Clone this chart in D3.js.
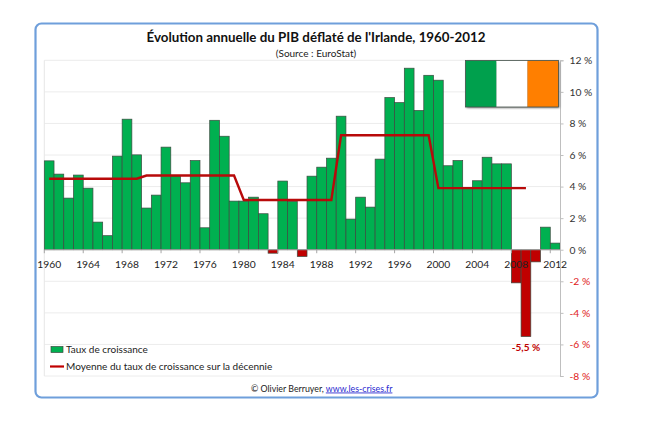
<!DOCTYPE html>
<html lang="fr">
<head>
<meta charset="utf-8">
<script src="https://cdnjs.cloudflare.com/ajax/libs/d3/7.8.5/d3.min.js"></script>
<style>
  html, body { margin: 0; background: #fff; }
  svg { display: block; font-family: Lato, "Open Sans", sans-serif; }
</style>
</head>
<body>
<div id="chart"></div>
<script>
const years = d3.range(1960, 2013)
const growth = [
  5.63, 4.79, 3.27, 4.73, 3.9, 1.75, 0.89, 5.93, 8.27, 6.01,
  2.64, 3.46, 6.5, 4.68, 4.24, 5.65, 1.39, 8.2, 7.19, 3.08,
  3.08, 3.33, 2.28, -0.22, 4.35, 3.06, -0.43, 4.66, 5.23, 5.8,
  8.46, 1.94, 3.33, 2.7, 5.74, 9.64, 9.32, 11.5, 8.82, 11.05,
  10.74, 5.32, 5.65, 3.95, 4.37, 5.86, 5.44, 5.44, -2.1, -5.5,
  -0.77, 1.43, 0.42
]
const decadeYears = d3.range(1960, 2010)
const decadeMeans = [
  4.5, 4.5, 4.5, 4.5, 4.5, 4.5, 4.5, 4.5, 4.5, 4.5,
  4.7, 4.7, 4.7, 4.7, 4.7, 4.7, 4.7, 4.7, 4.7, 4.7,
  3.15, 3.15, 3.15, 3.15, 3.15, 3.15, 3.15, 3.15, 3.15, 3.15,
  7.25, 7.25, 7.25, 7.25, 7.25, 7.25, 7.25, 7.25, 7.25, 7.25,
  3.9, 3.9, 3.9, 3.9, 3.9, 3.9, 3.9, 3.9, 3.9, 3.9
]
const yTicks = [-8, -6, -4, -2, 0, 2, 4, 6, 8, 10, 12]
const xTickYears = years.filter(d => (d - 1960) % 4 === 0)
const flagColors = ["#00a04d", "#ffffff", "#ff7f00"]

const width = 649, height = 432
const plot = { left: 44.3, right: 560, top: 60.3, bottom: 376 }

const svg = d3.select("#chart").append("svg")
  .attr("width", width)
  .attr("height", height)

const defs = svg.append("defs")
const blur = defs.append("filter").attr("id", "soft")
  .attr("x", "-5%").attr("y", "-5%").attr("width", "115%").attr("height", "115%")
blur.append("feGaussianBlur").attr("stdDeviation", 1.2)

// outer frame
svg.append("rect")
  .attr("x", 35.5).attr("y", 23.5).attr("width", 562).attr("height", 374)
  .attr("rx", 6)
  .attr("fill", "#fff")
  .attr("stroke", "#6f9fdb")
  .attr("stroke-width", 2.2)

const x = d3.scaleBand().domain(years).range([plot.left, plot.right])
const y = d3.scaleLinear().domain([-8, 12]).range([plot.bottom, plot.top])

// gridlines
svg.append("g").selectAll("line")
  .data(yTicks)
  .join("line")
  .attr("x1", plot.left).attr("x2", plot.right)
  .attr("y1", d => y(d)).attr("y2", d => y(d))
  .attr("stroke", "#ececec")
  .attr("stroke-width", 1)

svg.append("line")
  .attr("x1", plot.left).attr("x2", plot.left)
  .attr("y1", plot.top).attr("y2", plot.bottom)
  .attr("stroke", "#e6e6e6")

// bars
svg.append("g").selectAll("rect")
  .data(years)
  .join("rect")
  .attr("x", d => x(d))
  .attr("width", x.bandwidth())
  .attr("y", (d, i) => y(Math.max(0, growth[i])))
  .attr("height", (d, i) => Math.abs(y(growth[i]) - y(0)))
  .attr("fill", (d, i) => growth[i] < 0 ? "#c00000" : "#00b050")
  .attr("stroke", "#3c4a40")
  .attr("stroke-width", 0.7)

// x axis, labels sit on the band centre and ticks on the left edge of the band
const xAxis = svg.append("g")
xAxis.append("line")
  .attr("x1", plot.left).attr("x2", plot.right)
  .attr("y1", y(0)).attr("y2", y(0))
  .attr("stroke", "#a6a6a6")
xAxis.selectAll("line.tick")
  .data(xTickYears)
  .join("line")
  .attr("class", "tick")
  .attr("x1", d => x(d)).attr("x2", d => x(d))
  .attr("y1", y(0)).attr("y2", y(0) + 3.5)
  .attr("stroke", "#a6a6a6")
xAxis.selectAll("text")
  .data(xTickYears)
  .join("text")
  .attr("x", d => x(d) + x.bandwidth() / 2)
  .attr("y", y(0) + 18.5)
  .attr("text-anchor", "middle")
  .attr("font-size", 10.3)
  .attr("fill", "#222")
  .text(d => d)

// y axis on the right
const yAxis = svg.append("g")
  .attr("transform", `translate(${plot.right},0)`)
  .call(d3.axisRight(y).tickValues(yTicks).tickSize(3.5).tickPadding(6)
    .tickFormat(d => d3.format("d")(d).replace("−", "-") + " %"))
yAxis.selectAll(".domain, .tick line").attr("stroke", "#bfbfbf")
yAxis.selectAll("text")
  .attr("font-family", "Lato, 'Open Sans', sans-serif")
  .attr("font-size", 10.3)
  .attr("fill", d => d < 0 ? "#e02020" : "#333")

// decade mean line
const line = d3.line()
  .x(d => x(d) + x.bandwidth() / 2)
  .y((d, i) => y(decadeMeans[i]))

svg.append("path")
  .datum(decadeYears)
  .attr("d", line)
  .attr("fill", "none")
  .attr("stroke", "#b80a0a")
  .attr("stroke-width", 2.4)

// flag
const flag = { x: 465.5, y: 60.5, w: 93, h: 46.5 }
const flagX = d3.scaleBand().domain(flagColors).range([flag.x, flag.x + flag.w])

svg.append("rect")
  .attr("x", flag.x + 1).attr("y", flag.y + 1)
  .attr("width", flag.w).attr("height", flag.h)
  .attr("fill", "#777")
  .attr("filter", "url(#soft)")
svg.append("g").selectAll("rect")
  .data(flagColors)
  .join("rect")
  .attr("x", d => flagX(d))
  .attr("y", flag.y)
  .attr("width", flagX.bandwidth())
  .attr("height", flag.h)
  .attr("fill", d => d)
svg.append("rect")
  .attr("x", flag.x).attr("y", flag.y)
  .attr("width", flag.w).attr("height", flag.h)
  .attr("fill", "none")
  .attr("stroke", "#44524a")
  .attr("stroke-width", 0.8)

// title
svg.append("text")
  .attr("x", 316).attr("y", 41.5)
  .attr("text-anchor", "middle")
  .attr("font-size", 13.35)
  .attr("font-weight", 700)
  .attr("fill", "#111")
  .text("Évolution annuelle du PIB déflaté de l'Irlande, 1960-2012")

svg.append("text")
  .attr("x", 316).attr("y", 56.5)
  .attr("text-anchor", "middle")
  .attr("font-size", 10)
  .attr("fill", "#222")
  .text("(Source : EuroStat)")

// value label
svg.append("text")
  .attr("x", x(2009) + x.bandwidth() / 2)
  .attr("y", y(-5.5) + 14)
  .attr("text-anchor", "middle")
  .attr("font-size", 10)
  .attr("font-weight", 700)
  .attr("fill", "#c00000")
  .text("-5,5 %")

// legend
svg.append("rect")
  .attr("x", 51).attr("y", 346.5).attr("width", 12).attr("height", 6)
  .attr("fill", "#00b050")
  .attr("stroke", "#3c4a40")
  .attr("stroke-width", 0.7)
svg.append("text")
  .attr("x", 66).attr("y", 353)
  .attr("font-size", 10)
  .attr("fill", "#222")
  .text("Taux de croissance")

svg.append("line")
  .attr("x1", 50).attr("x2", 64)
  .attr("y1", 366.5).attr("y2", 366.5)
  .attr("stroke", "#c00000")
  .attr("stroke-width", 2.2)
svg.append("text")
  .attr("x", 66).attr("y", 370)
  .attr("font-size", 10)
  .attr("fill", "#222")
  .text("Moyenne du taux de croissance sur la décennie")

// credit
const credit = svg.append("text")
  .attr("x", 251).attr("y", 391.5)
  .attr("font-size", 8.8)
  .attr("fill", "#222")
credit.append("tspan").text("© Olivier Berruyer, ")
credit.append("tspan")
  .attr("fill", "#2a2ad0")
  .attr("text-decoration", "underline")
  .text("www.les-crises.fr")
</script>
</body>
</html>
